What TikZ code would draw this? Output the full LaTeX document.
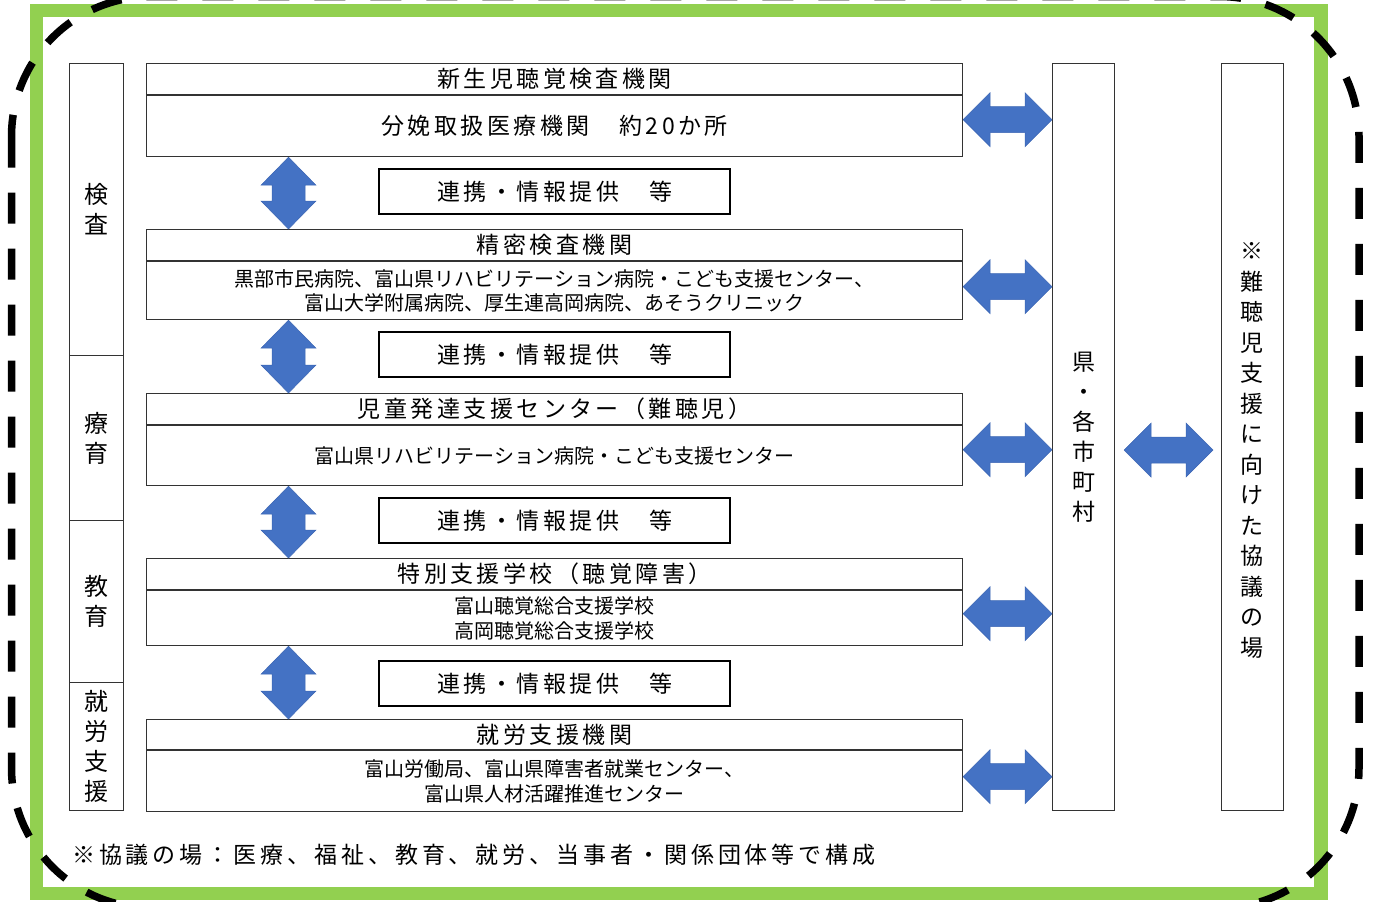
\documentclass[tikz,border=0pt]{standalone}
\usepackage{fontspec}
\setmainfont{Noto Sans CJK JP}
\newfontfamily\jpw[LetterSpace=15]{Noto Sans CJK JP}
\newfontfamily\jpwb[LetterSpace=17]{Noto Sans CJK JP}
\usetikzlibrary{calc}
\definecolor{lgreen}{HTML}{92D050}
\definecolor{ablue}{HTML}{4472C4}
\definecolor{ablueedge}{HTML}{3B65B3}
\tikzset{
 box/.style={draw=black!80, line width=1.1pt, inner sep=0pt, anchor=north west, minimum width=816pt},
 hdr/.style={box, minimum height=31pt, font=\jpw\fontsize{23}{28}\selectfont},
 bod/.style={box, font=\fontsize{20}{24.5}\selectfont, align=center},
 linkbox/.style={draw=black, line width=2.4pt, anchor=north west, minimum width=351pt, minimum height=45pt, inner sep=0pt, font=\jpw\fontsize{23}{28}\selectfont},
 col/.style={draw=black!80, line width=1.1pt, inner sep=0pt, anchor=north west, align=center, font=\fontsize{24}{30}\selectfont},
 barrow/.style={fill=ablue, draw=ablueedge, line width=0.5pt},
}
\newcommand\blockV[2]{%
 \filldraw[barrow] (#1) -- ($(#1)+(27.5,28)$) -- ($(#1)+(16.5,28)$) -- ($(#2)+(16.5,-28)$) -- ($(#2)+(27.5,-28)$) -- (#2) -- ($(#2)+(-27.5,-28)$) -- ($(#2)+(-16.5,-28)$) -- ($(#1)+(-16.5,28)$) -- ($(#1)+(-27.5,28)$) -- cycle;}
\newcommand\blockH[2]{%
 \filldraw[barrow] (#1) -- ($(#1)+(27,-27)$) -- ($(#1)+(27,-13)$) -- ($(#2)+(-27,-13)$) -- ($(#2)+(-27,-27)$) -- (#2) -- ($(#2)+(-27,27)$) -- ($(#2)+(-27,13)$) -- ($(#1)+(27,13)$) -- ($(#1)+(27,27)$) -- cycle;}
\begin{document}
\begin{tikzpicture}[x=1pt,y=-1pt]
\useasboundingbox (0,0) rectangle (1374,902);
% frames
\draw[lgreen, line width=13.5pt] (36.5,10.5) rectangle (1321,893.5);
\draw[black, line width=7.5pt, dash pattern=on 31pt off 25pt, rounded corners=140pt] (11.5,-3.5) rectangle (1359,908);
% left column
\node[col, minimum width=54pt, minimum height=292pt] (s1) at (69,63) {検\\査};
\node[col, minimum width=54pt, minimum height=165pt] (s2) at (69,355) {療\\育};
\node[col, minimum width=54pt, minimum height=162pt] (s3) at (69,520) {教\\育};
\node[col, minimum width=54pt, minimum height=128pt] (s4) at (69,682) {就\\労\\支\\援};
% main boxes
\node[hdr] (h1) at (146,63) {新生児聴覚検査機関};
\node[bod, minimum height=61pt, font=\jpw\fontsize{23}{28}\selectfont] (d1) at (h1.south west) {分娩取扱医療機関　約20か所};
\node[hdr] (h2) at (146,229) {精密検査機関};
\node[bod, minimum height=58pt] (d2) at (h2.south west) {黒部市民病院、富山県リハビリテーション病院・こども支援センター、\\富山大学附属病院、厚生連高岡病院、あそうクリニック};
\node[hdr] (h3) at (146,393) {児童発達支援センター（難聴児）};
\node[bod, minimum height=60pt] (d3) at (h3.south west) {富山県リハビリテーション病院・こども支援センター};
\node[hdr] (h4) at (146,558) {特別支援学校（聴覚障害）};
\node[bod, minimum height=55pt] (d4) at (h4.south west) {富山聴覚総合支援学校\\高岡聴覚総合支援学校};
\node[hdr, minimum height=30pt] (h5) at (146,719) {就労支援機関};
\node[bod, minimum height=61pt] (d5) at (h5.south west) {富山労働局、富山県障害者就業センター、\\富山県人材活躍推進センター};
% link boxes
\node[linkbox] (l1) at (378,168) {連携・情報提供　等};
\node[linkbox] (l2) at (378,331) {連携・情報提供　等};
\node[linkbox] (l3) at (378,497) {連携・情報提供　等};
\node[linkbox] (l4) at (378,660) {連携・情報提供　等};
% right columns
\node[col, minimum width=62pt, minimum height=747pt, font=\fontsize{23}{30}\selectfont] (ken) at (1052,63) {県\\・\\各\\市\\町\\村};
\node[col, minimum width=62pt, minimum height=747pt] (rc) at (1221,63) {};
\node[align=center, inner sep=0pt, font=\fontsize{23}{30.5}\selectfont] (rct) at (1252,450.5) {※\\難\\聴\\児\\支\\援\\に\\向\\け\\た\\協\\議\\の\\場};
% note
\node[anchor=west, inner sep=0pt, font=\jpwb\fontsize{23}{28}\selectfont] (note) at (72,855) {※協議の場：医療、福祉、教育、就労、当事者・関係団体等で構成};
% vertical arrows
\coordinate (xv) at (288.5,0);
\coordinate (va1) at (d1.south -| xv); \coordinate (vb1) at (h2.north -| xv);
\coordinate (va2) at (d2.south -| xv); \coordinate (vb2) at (h3.north -| xv);
\coordinate (va3) at (d3.south -| xv); \coordinate (vb3) at (h4.north -| xv);
\coordinate (va4) at (d4.south -| xv); \coordinate (vb4) at (h5.north -| xv);
\blockV{va1}{vb1}
\blockV{va2}{vb2}
\blockV{va3}{vb3}
\blockV{va4}{vb4}
% horizontal arrows
\coordinate (ha1) at ($(d1.east)+(0,-6.5)$); \coordinate (hb1) at (ha1 -| ken.west);
\coordinate (ha2) at ($(d2.east)+(0,-4)$); \coordinate (hb2) at (ha2 -| ken.west);
\coordinate (ha3) at ($(d3.east)+(0,-6)$); \coordinate (hb3) at (ha3 -| ken.west);
\coordinate (ha4) at ($(d4.east)+(0,-4.5)$); \coordinate (hb4) at (ha4 -| ken.west);
\coordinate (ha5) at ($(d5.east)+(0,-4.5)$); \coordinate (hb5) at (ha5 -| ken.west);
\blockH{ha1}{hb1}
\blockH{ha2}{hb2}
\blockH{ha3}{hb3}
\blockH{ha4}{hb4}
\blockH{ha5}{hb5}
\coordinate (m1) at ($(ken.east)+(9,13)$);
\coordinate (m2) at ($(m1 -| rc.west)+(-8,0)$);
\blockH{m1}{m2}
\end{tikzpicture}
\end{document}
